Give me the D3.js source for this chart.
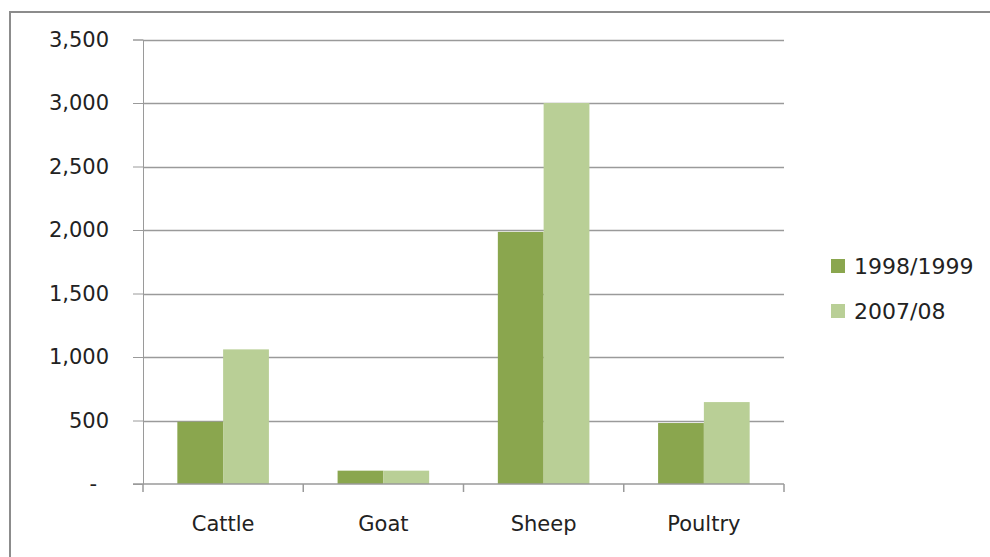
<!DOCTYPE html>
<html><head><meta charset="utf-8">
<script src="https://cdn.jsdelivr.net/npm/d3@7"></script>
<style>body{margin:0;background:#fff}svg{display:block}text{font-family:"DejaVu Sans",Verdana,sans-serif;fill:#222}</style>
</head><body>
<svg id="c" width="990" height="557"></svg>
<script>
const categories = ["Cattle", "Goat", "Sheep", "Poultry"];
const seriesNames = ["1998/1999", "2007/08"];
const values1998 = [490, 105, 1985, 480];
const values2007 = [1060, 105, 3000, 645];
const yTicks = [0, 500, 1000, 1500, 2000, 2500, 3000, 3500];
const colors = ["#8AA64E", "#B9CF96"];

const svg = d3.select("#c");
// outer frame
svg.append("rect").attr("x",10).attr("y",12).attr("width",1100).attr("height",700)
  .attr("fill","none").attr("stroke","#8c8c8c").attr("stroke-width",2);

const L=143, R=784, T=39.5, B=484;
const x = d3.scaleBand().domain(categories).range([L,R]).paddingInner(1.5/3.5).paddingOuter(0.75/3.5);
const xb = d3.scaleBand().domain(categories).range([L,R]);
const y = d3.scaleLinear().domain([0,3500]).range([B,T]);
const fmt = d3.format(",");

// gridlines + y ticks
const ya = svg.append("g").attr("transform",`translate(${L},0)`)
  .call(d3.axisLeft(y).tickValues(yTicks).tickSize(10).tickPadding(24)
    .tickFormat(d => d===0 ? "-" : fmt(d)));
ya.select(".domain").attr("stroke","#9a9a9a");
ya.selectAll(".tick line").attr("stroke","#9a9a9a");
ya.selectAll(".tick text").style("font-size","21px").attr("fill","#222")
  .attr("dx", d => d===0 ? -12 : 0);
svg.append("g").selectAll("line").data(yTicks.filter(d=>d>0)).join("line")
  .attr("x1",L).attr("x2",R).attr("y1",d=>Math.round(y(d))+0.5).attr("y2",d=>Math.round(y(d))+0.5)
  .attr("stroke","#9a9a9a").attr("stroke-width",1.5);

// bars
const groups = categories.map((c,i)=>({c, vals:[values1998[i], values2007[i]]}));
const bw = x.bandwidth()/2;
const g = svg.append("g");
groups.forEach(d=>{
  d.vals.forEach((v,j)=>{
    g.append("rect").attr("x", x(d.c)+j*bw).attr("width", bw)
      .attr("y", y(v)).attr("height", B - y(v)).attr("fill", colors[j]);
  });
});

// x axis
const xa = svg.append("g").attr("transform",`translate(0,${B})`)
  .call(d3.axisBottom(xb).tickSize(0).tickPadding(32));
xa.select(".domain").remove();
xa.selectAll(".tick text").style("font-size","21px").attr("fill","#222");
svg.append("line").attr("x1",L-10).attr("x2",R).attr("y1",B).attr("y2",B).attr("stroke","#9a9a9a").attr("stroke-width",1.5);
const bounds = categories.map(c=>xb(c)).concat([R]);
svg.append("g").selectAll("line").data(bounds).join("line")
  .attr("x1",d=>d).attr("x2",d=>d).attr("y1",B).attr("y2",B+8).attr("stroke","#9a9a9a").attr("stroke-width",1.5);

// legend
const lg = svg.append("g").attr("transform","translate(831,259)");
seriesNames.forEach((s,i)=>{
  const it = lg.append("g").attr("transform",`translate(0,${i*45})`);
  it.append("rect").attr("width",14).attr("height",14).attr("fill",colors[i]);
  it.append("text").attr("x",23).attr("y",15).style("font-size","22px").text(s);
});
</script>
</body></html>
